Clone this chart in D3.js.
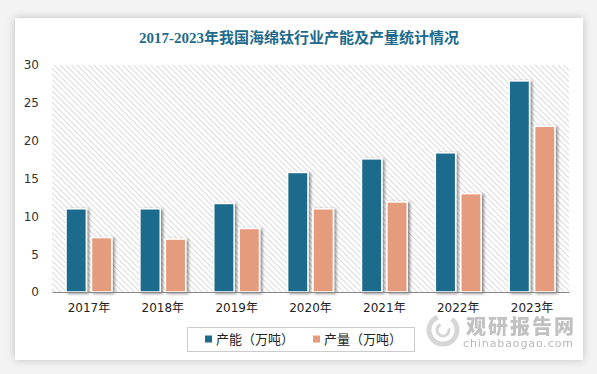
<!DOCTYPE html>
<html lang="zh">
<head>
<meta charset="utf-8">
<title>2017-2023年我国海绵钛行业产能及产量统计情况</title>
<script src="https://d3js.org/d3.v7.min.js"></script>
<style>
  html, body { margin: 0; padding: 0; background: #f3f3f3; }
  svg { display: block; }
</style>
</head>
<body>
<svg id="chart" width="597" height="374"></svg>
<script>
// data
var years = ["2017年", "2018年", "2019年", "2020年", "2021年", "2022年", "2023年"];
var capacity = [11.0, 11.0, 11.7, 15.8, 17.6, 18.4, 27.9];   // 产能（万吨）
var output = [7.2, 7.0, 8.4, 11.0, 11.9, 13.0, 21.9];        // 产量（万吨）
var seriesNames = ["产能（万吨）", "产量（万吨）"];
var yTicks = [0, 5, 10, 15, 20, 25, 30];

var colors = ["#1d6a8c", "#e59c7d"];
var svg = d3.select("#chart");
var defs = svg.append("defs");

// card shadow
var cs = defs.append("filter").attr("id", "cardShadow").attr("x", "-5%").attr("y", "-5%").attr("width", "110%").attr("height", "110%");
cs.append("feDropShadow").attr("dx", 0).attr("dy", 0).attr("stdDeviation", 4)
  .attr("flood-color", "#000").attr("flood-opacity", 0.22);

// bar shadow
var bs = defs.append("filter").attr("id", "barShadow").attr("x", "-30%").attr("y", "-10%").attr("width", "160%").attr("height", "120%");
bs.append("feDropShadow").attr("dx", 2).attr("dy", 1).attr("stdDeviation", 1.6)
  .attr("flood-color", "#000").attr("flood-opacity", 0.45);

// hatch pattern for plot background
var pat = defs.append("pattern").attr("id", "hatch").attr("patternUnits", "userSpaceOnUse")
  .attr("width", 4).attr("height", 4).attr("patternTransform", "rotate(-45)");
pat.append("rect").attr("width", 4).attr("height", 4).attr("fill", "#ffffff");
pat.append("line").attr("x1", 0).attr("y1", 0).attr("x2", 0).attr("y2", 4)
  .attr("stroke", "#cfcfcf").attr("stroke-width", 1.5);

// white card
svg.append("rect").attr("x", 15).attr("y", 18).attr("width", 568).attr("height", 342)
  .attr("fill", "#fff").attr("filter", "url(#cardShadow)");

// title
svg.append("text").attr("x", 299).attr("y", 43).attr("text-anchor", "middle")
  .style("font", "bold 15px 'Liberation Serif', 'DejaVu Serif', 'Noto Sans CJK SC', serif")
  .attr("fill", "#1d6a8c").text("2017-2023年我国海绵钛行业产能及产量统计情况");

var plot = { left: 52, right: 569, top: 65, bottom: 292 };

var x0 = d3.scaleBand().domain(years).range([plot.left, plot.right]).padding(0);
var x1 = d3.scaleBand().domain(seriesNames)
  .range([x0.bandwidth() * 0.19, x0.bandwidth() * 0.81]).paddingInner(0.2);
var y = d3.scaleLinear().domain([0, 30]).range([plot.bottom, plot.top]);

svg.append("rect").attr("x", plot.left).attr("y", plot.top)
  .attr("width", plot.right - plot.left).attr("height", plot.bottom - plot.top)
  .attr("fill", "url(#hatch)");

// y axis
var yAxis = d3.axisLeft(y).tickValues(yTicks).tickSize(0).tickPadding(0);
var gy = svg.append("g").attr("transform", "translate(39,0)").call(yAxis);
gy.select(".domain").remove();
gy.selectAll("text").style("font", "12px 'DejaVu Sans', sans-serif").attr("fill", "#333");

// bars
var rows = years.map(function (d, i) { return { year: d, vals: [capacity[i], output[i]] }; });
var groups = svg.append("g").selectAll("g").data(rows).enter().append("g")
  .attr("transform", function (d) { return "translate(" + x0(d.year) + ",0)"; });
groups.selectAll("rect").data(function (d) {
    return d.vals.map(function (v, k) { return { name: seriesNames[k], v: v, k: k }; });
  }).enter().append("rect")
  .attr("x", function (d) { return x1(d.name); })
  .attr("y", function (d) { return y(d.v); })
  .attr("width", x1.bandwidth())
  .attr("height", function (d) { return y(0) - y(d.v); })
  .attr("fill", function (d) { return colors[d.k]; })
  .attr("stroke", "#fff").attr("stroke-width", 1.5)
  .attr("filter", "url(#barShadow)");

// x axis
var xAxis = d3.axisBottom(x0).tickSize(0).tickPadding(11);
var gx = svg.append("g").attr("transform", "translate(0," + plot.bottom + ")").call(xAxis);
gx.select(".domain").attr("stroke", "#888").attr("stroke-width", 1.2);
gx.selectAll("text").style("font", "12px 'DejaVu Sans', 'Noto Sans CJK SC', sans-serif").attr("fill", "#222");

// watermark
var wm = svg.append("g").attr("opacity", 0.6);
wm.append("circle").attr("cx", 443).attr("cy", 330).attr("r", 14).attr("fill", "none")
  .attr("stroke", "#bbb").attr("stroke-width", 5).attr("stroke-dasharray", "60 15");
wm.append("circle").attr("cx", 443).attr("cy", 330).attr("r", 6).attr("fill", "none")
  .attr("stroke", "#bbb").attr("stroke-width", 3).attr("stroke-dasharray", "25 10");
wm.append("text").attr("x", 466).attr("y", 334).attr("textLength", 108)
  .style("font", "900 20px 'Noto Sans CJK SC', sans-serif").attr("fill", "#999").text("观研报告网");
wm.append("text").attr("x", 463).attr("y", 347).attr("textLength", 110)
  .style("font", "11px 'DejaVu Sans', sans-serif").attr("fill", "#888")
  .text("chinabaogao.com");

// legend
var lg = svg.append("g");
lg.append("rect").attr("x", 187.5).attr("y", 327.5).attr("width", 227).attr("height", 24)
  .attr("fill", "#fff").attr("stroke", "#ccc");
var items = lg.selectAll("g").data(seriesNames).enter().append("g")
  .attr("transform", function (d, i) { return "translate(" + (205 + i * 108) + ",339)"; });
items.append("rect").attr("x", 0).attr("y", -3.5).attr("width", 7).attr("height", 7)
  .attr("fill", function (d, i) { return colors[i]; });
items.append("text").attr("x", 11).attr("y", 4.5)
  .style("font", "13px 'Noto Sans CJK SC', sans-serif").attr("fill", "#222")
  .text(function (d) { return d; });
</script>
</body>
</html>
